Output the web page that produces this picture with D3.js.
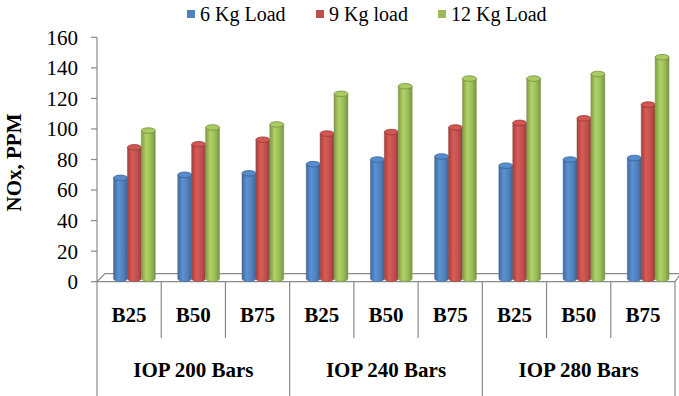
<!DOCTYPE html>
<html>
<head>
<meta charset="utf-8">
<script src="https://cdn.jsdelivr.net/npm/d3@7"></script>
<style>
  html, body { margin: 0; padding: 0; background: #fff; }
  svg { display: block; }
</style>
</head>
<body>
<svg id="chart" width="679" height="396"></svg>
<script>
// NOx emission by injection opening pressure, blend and engine load
const groups = ["IOP 200 Bars", "IOP 240 Bars", "IOP 280 Bars"];
const blends = ["B25", "B50", "B75"];
const seriesNames = ["6 Kg Load", "9 Kg load", "12 Kg Load"];
const load6 = [66, 68, 69, 75, 78, 80, 74, 78, 79];
const load9 = [86, 88, 91, 95, 96, 99, 102, 105, 114];
const load12 = [97, 99, 101, 121, 126, 131, 131, 134, 145];
const yTicks = [0, 20, 40, 60, 80, 100, 120, 140, 160];
const seriesColors = ["#4F81BD", "#C0504D", "#9BBB59"];

(function () {
const FONT = "'Liberation Serif', 'Times New Roman', Times, 'DejaVu Serif', serif";
const series = [load6, load9, load12];
const cats = [];
groups.forEach((g, gi) => blends.forEach((b, bi) => cats.push({ id: gi * 3 + bi, group: g, blend: b })));

const svg = d3.select("#chart").attr("font-family", FONT);
const plotLeft = 97, plotRight = 675, plotTop = 37.3, plotBottom = 281.7;
const depth = 8;                 // 3-D floor depth (px, x and y)
const barShiftX = 5.3, barShiftY = 3;

const y = d3.scaleLinear().domain([0, 160]).range([plotBottom, plotTop]);
const x0 = d3.scaleBand().domain(cats.map(c => c.id)).range([plotLeft, plotRight]).paddingInner(0).paddingOuter(0);
const x1 = d3.scaleBand().domain(d3.range(3)).range([0, x0.bandwidth()]).paddingInner(0).paddingOuter(0.81);

const gridColor = "#8a8a8a";

// gradients for cylinder shading
const defs = svg.append("defs");
seriesColors.forEach((c, i) => {
  const base = d3.color(c);
  const g = defs.append("linearGradient").attr("id", "cyl" + i).attr("x1", "0").attr("x2", "1").attr("y1", "0").attr("y2", "0");
  g.append("stop").attr("offset", "0%").attr("stop-color", base.darker(0.55));
  g.append("stop").attr("offset", "35%").attr("stop-color", base.brighter(0.35));
  g.append("stop").attr("offset", "70%").attr("stop-color", base);
  g.append("stop").attr("offset", "100%").attr("stop-color", base.darker(0.7));
});

// floor (3-D base plane)
svg.append("path")
  .attr("d", `M${plotLeft},${plotBottom} L${plotLeft + depth},${plotBottom - depth} L${plotRight + 6},${plotBottom - depth} L${plotRight},${plotBottom} Z`)
  .attr("fill", "#fff").attr("stroke", gridColor).attr("stroke-width", 1.2);

// y axis
const yAxis = svg.append("g");
yAxis.append("line").attr("x1", plotLeft).attr("x2", plotLeft).attr("y1", plotTop).attr("y2", plotBottom)
  .attr("stroke", gridColor).attr("stroke-width", 1.2);
yAxis.selectAll(".tick").data(yTicks).join("line")
  .attr("x1", plotLeft - 6).attr("x2", plotLeft).attr("y1", d => y(d)).attr("y2", d => y(d))
  .attr("stroke", gridColor).attr("stroke-width", 1.2);
yAxis.selectAll(".lbl").data(yTicks).join("text")
  .attr("x", plotLeft - 19).attr("y", d => y(d)).attr("dy", "0.35em")
  .attr("text-anchor", "end").attr("font-size", 21).text(d => d);

svg.append("text")
  .attr("transform", `translate(21,${(plotTop + plotBottom) / 2 + 3}) rotate(-90)`)
  .attr("text-anchor", "middle").attr("font-size", 21).attr("font-weight", "bold")
  .text("NOx, PPM");

// cylinders
const bars = svg.append("g");
series.forEach((vals, si) => {
  const base = d3.color(seriesColors[si]);
  vals.forEach((v, ci) => {
    const w = x1.bandwidth();
    const bx = x0(ci) + x1(si) + barShiftX;
    const ry = w * 0.2, rx = w / 2;
    const yb = y(0) - barShiftY;
    const yt = y(v) - barShiftY;
    const g = bars.append("g");
    g.append("path")
      .attr("d", `M${bx},${yt} L${bx},${yb} A${rx},${ry} 0 0 0 ${bx + w},${yb} L${bx + w},${yt} Z`)
      .attr("fill", `url(#cyl${si})`).attr("stroke", base.darker(0.6)).attr("stroke-width", 0.5);
    g.append("ellipse")
      .attr("cx", bx + rx).attr("cy", yt).attr("rx", rx).attr("ry", ry)
      .attr("fill", base.brighter(0.25)).attr("stroke", base.darker(0.8)).attr("stroke-width", 0.8);
  });
});

// category table below the floor
const table = svg.append("g");
cats.forEach((c, i) => {
  const xl = x0(c.id);
  const isGroupEdge = i % 3 === 0;
  table.append("line").attr("x1", xl).attr("x2", xl)
    .attr("y1", plotBottom).attr("y2", isGroupEdge ? 396 : 338)
    .attr("stroke", gridColor).attr("stroke-width", 1.2);
  table.append("text")
    .attr("x", xl + x0.bandwidth() / 2).attr("y", 315).attr("dy", "0.35em")
    .attr("text-anchor", "middle").attr("font-size", 21).attr("font-weight", "bold")
    .text(c.blend);
});
table.append("line").attr("x1", plotRight).attr("x2", plotRight).attr("y1", plotBottom).attr("y2", 396)
  .attr("stroke", gridColor).attr("stroke-width", 1.2);
groups.forEach((g, gi) => {
  const xs = x0(gi * 3), xe = x0(gi * 3 + 2) + x0.bandwidth();
  table.append("text")
    .attr("x", (xs + xe) / 2).attr("y", 370).attr("dy", "0.35em")
    .attr("text-anchor", "middle").attr("font-size", 21).attr("font-weight", "bold")
    .text(g);
});

// legend
const legendX = [187, 316, 438];
const legend = svg.append("g");
seriesNames.forEach((n, i) => {
  legend.append("rect").attr("x", legendX[i]).attr("y", 10).attr("width", 8).attr("height", 8)
    .attr("fill", seriesColors[i]);
  legend.append("text").attr("x", legendX[i] + 13).attr("y", 21)
    .attr("font-size", 20).text(n);
});
})();
</script>
</body>
</html>
